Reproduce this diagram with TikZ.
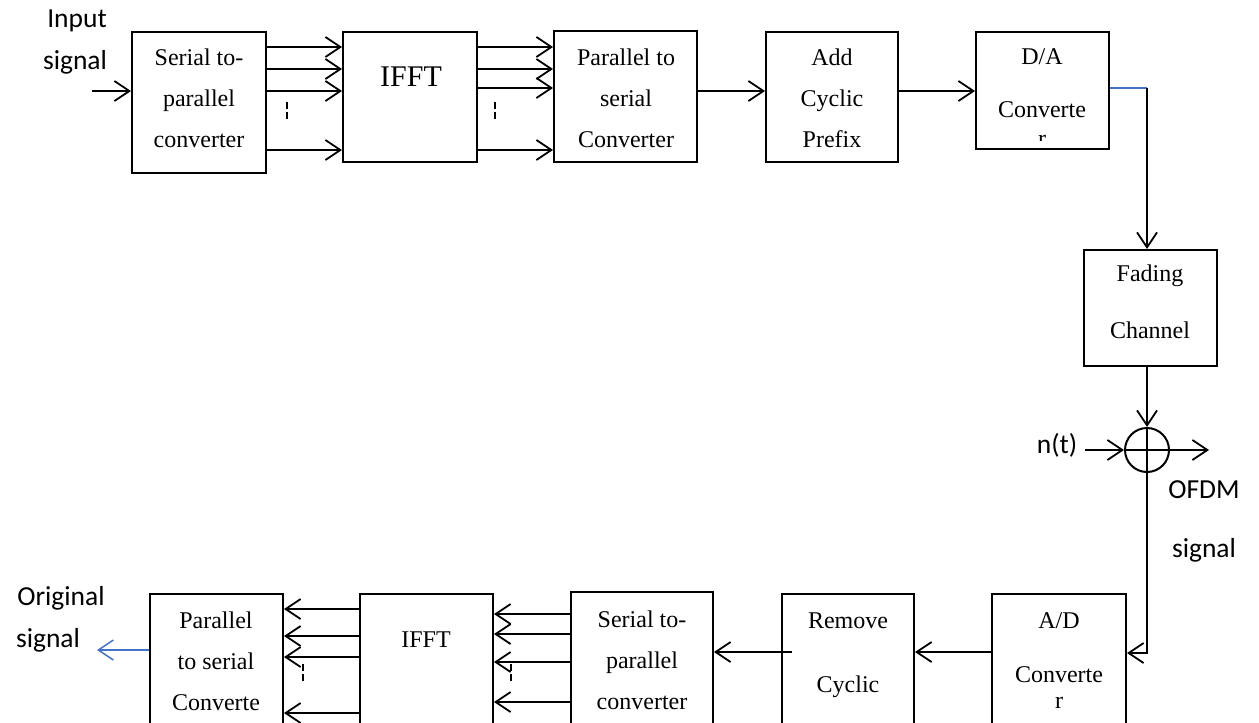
\documentclass[tikz,border=0pt]{standalone}
\usepackage{fontspec}
\setmainfont{Liberation Serif}
\newfontfamily\lblfont{Carlito}
\usetikzlibrary{arrows.meta}
\begin{document}
\begin{tikzpicture}[x=1pt,y=-1pt,
  box/.style={draw, line width=2pt, inner sep=0pt},
  arr/.style={line width=1.8pt, -{Straight Barb[length=15pt,width=20pt,line width=1.8pt]}},
  ln/.style={line width=1.8pt},
  btxt/.style={font=\fontsize{24}{41}\selectfont, align=center, inner sep=0pt},
  lbl/.style={font=\lblfont\fontsize{27.5}{40}\selectfont, inner sep=0pt},
  dotsm/.style={line width=2pt, dash pattern=on 7pt off 3pt},
]
\definecolor{lnblue}{RGB}{68,114,196}
\useasboundingbox (0,0) rectangle (1259,723);
\clip (0,0) rectangle (1259,723);

% top row boxes
\node[box, minimum width=134, minimum height=141] (s2p) at (199,102.5) {};
\node[box, minimum width=134, minimum height=130] (ifft) at (410,97) {};
\node[box, minimum width=143, minimum height=131] (p2s) at (625.5,96.5) {};
\node[box, minimum width=132, minimum height=130] (acp) at (832,97) {};
\node[box, minimum width=133, minimum height=117] (da) at (1042.5,90.5) {};
\node[box, minimum width=133, minimum height=116] (fad) at (1150.5,308) {};
\node[draw, circle, line width=2pt, minimum size=44, inner sep=0pt] (sum) at (1147,450) {};
\draw[line width=2pt] (sum.north) -- (sum.south) (sum.west) -- (sum.east);

% bottom row boxes
\node[box, minimum width=133, minimum height=146] (bp2s) at (216.5,667) {};
\node[box, minimum width=133, minimum height=146] (bifft) at (426.5,667) {};
\node[box, minimum width=142, minimum height=148] (bs2p) at (642,666) {};
\node[box, minimum width=132, minimum height=146] (rem) at (848,667) {};
\node[box, minimum width=134, minimum height=146] (ad) at (1059,667) {};

% box texts
\node[btxt] (t1) at (199,98) {Serial to-\\parallel\\converter};
\node[btxt, font=\fontsize{30}{34}\selectfont] (t2) at (411,77) {IFFT};
\node[btxt] (t3) at (626,98) {Parallel to\\serial\\Converter};
\node[btxt] (t4) at (832,98) {Add\\Cyclic\\Prefix};
\node[btxt] (t5) at (1042,57) {D/A};
\node[btxt] (t6) at (1042,110) {Converte};
\begin{scope}
  \clip (1030,131) rectangle (1055,140);
  \node[btxt, anchor=base] (t6r) at (1042,146) {r};
\end{scope}
\node[btxt] (t7) at (1150,276) {Fading};
\node[btxt] (t8) at (1150,330) {Channel};

\node[btxt] (b1) at (216,661) {Parallel\\to serial\\Converte};
\node[btxt] (b2) at (426,640) {IFFT};
\node[btxt] (b3) at (642,660) {Serial to-\\parallel\\converter};
\node[btxt] (b4) at (848,621) {Remove};
\node[btxt] (b5) at (848,687) {Cyclic};
\node[btxt] (b6) at (1059,621) {A/D};
\node[btxt] (b7) at (1059,675) {Converte};
\node[btxt] (b8) at (1059,703) {r};

% labels
\node[lbl] (l1) at (77,21) {Input};
\node[lbl] (l2) at (75,62) {signal};
\node[lbl] (l3) at (1057,445) {n(t)};
\node[lbl] (l4) at (1204,490) {OFDM};
\node[lbl] (l5) at (1204,550) {signal};
\node[lbl] (l6) at (61,598) {Original};
\node[lbl] (l7) at (48,640) {signal};

% coordinates
\coordinate (inp) at (92,91);
\coordinate (corner) at (1147,88);
\coordinate (outs) at (1209,450);
\coordinate (nin) at (1085,450);
\coordinate (orig) at (97,650);
\coordinate (remst) at (792,652);

% top connectors
\draw[arr] (inp) -- (s2p.west |- inp);
\foreach \y in {47,69,91,150} \draw[arr] (s2p.east |- 0,\y) -- (ifft.west |- 0,\y);
\foreach \y in {47,69,88,150} \draw[arr] (ifft.east |- 0,\y) -- (p2s.west |- 0,\y);
\draw[arr] (p2s.east |- 0,91) -- (acp.west |- 0,91);
\draw[arr] (acp.east |- 0,91) -- (da.west |- 0,91);
\draw[ln, lnblue] (da.east |- corner) -- (corner);
\draw[arr] (corner) -- (corner |- fad.north);
\draw[arr] (sum |- fad.south) -- (sum.north);
\draw[arr] (nin) -- (sum.west);
\draw[arr] (sum.east) -- (outs);
\draw[arr] (sum.south) |- (ad.east |- 0,653);

% bottom connectors
\draw[arr] (ad.west |- 0,652) -- (rem.east |- 0,652);
\draw[arr] (remst) -- (bs2p.east |- remst);
\foreach \y in {614,634,662,702} \draw[arr] (bs2p.west |- 0,\y) -- (bifft.east |- 0,\y);
\foreach \y in {609,636,657,713} \draw[arr] (bifft.west |- 0,\y) -- (bp2s.east |- 0,\y);
\draw[ln, lnblue, -{Straight Barb[length=15pt,width=20pt,line width=1.5pt]}] (bp2s.west |- orig) -- (orig);

% dots
\draw[dotsm] (287,102) -- (287,119);
\draw[dotsm] (495,102) -- (495,119);
\draw[dotsm] (303,664) -- (303,681);
\draw[dotsm] (511,664) -- (511,681);
\end{tikzpicture}
\end{document}
